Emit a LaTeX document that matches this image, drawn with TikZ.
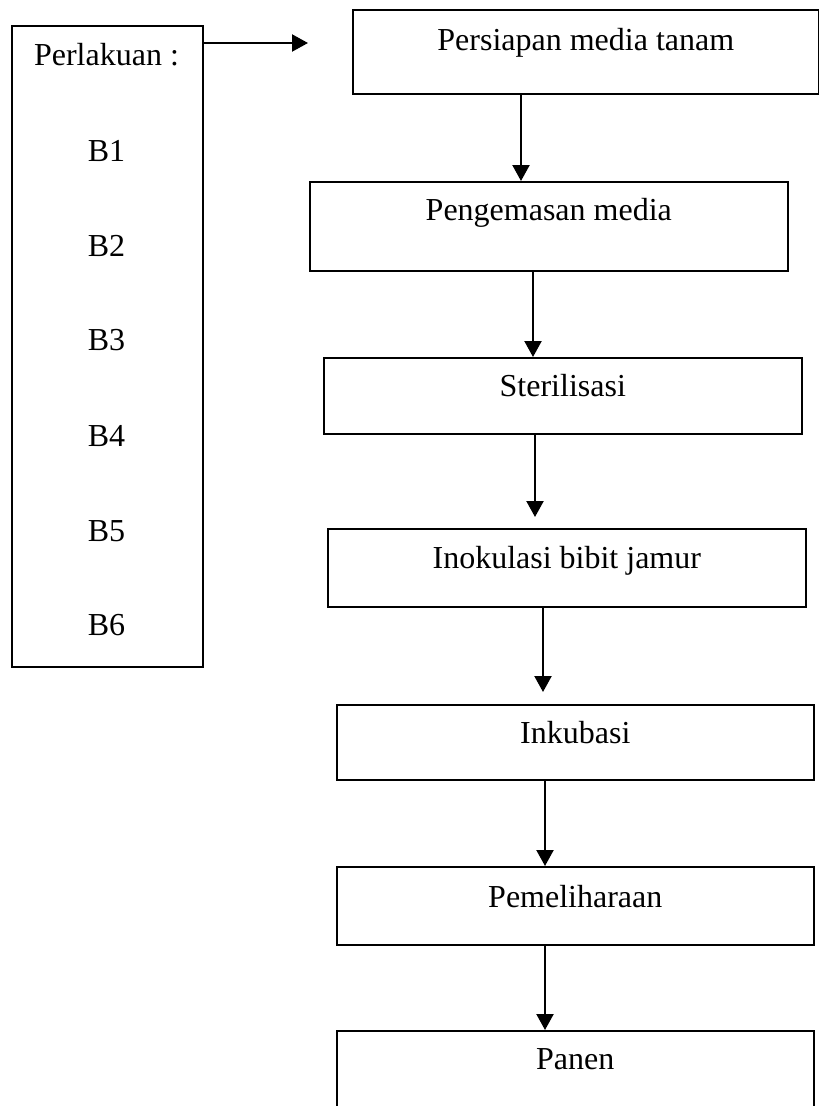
\documentclass[tikz,border=0pt]{standalone}
\usepackage{fontspec}
\setmainfont{Liberation Serif}
\usetikzlibrary{arrows.meta}
\begin{document}
\begin{tikzpicture}[x=1pt,y=-1pt,
  box/.style={draw,line width=1.6pt,inner sep=0pt,anchor=north west,font=\fontsize{32}{38}\selectfont},
  arr/.style={line width=2.2pt,-{Triangle[width=17pt,length=16pt]}},
  lbl/.style={anchor=base,inner sep=0pt,font=\fontsize{32}{38}\selectfont}]
\useasboundingbox (0,0) rectangle (819,1106);
% left box
\node[draw,line width=1.6pt,inner sep=0pt,anchor=north west,minimum width=191pt,minimum height=641pt] (perl) at (11,25) {};
\node[lbl] (p0) at (106.5,65) {Perlakuan :};
\node[lbl] (pb1) at (106.5,161) {B1};
\node[lbl] (pb2) at (106.5,256) {B2};
\node[lbl] (pb3) at (106.5,350) {B3};
\node[lbl] (pb4) at (106.5,446) {B4};
\node[lbl] (pb5) at (106.5,541) {B5};
\node[lbl] (pb6) at (106.5,635) {B6};
% flow boxes
\node[box,minimum width=466pt,text height=41pt,text depth=43pt] (b1) at (352,9) {Persiapan media tanam};
\node[box,minimum width=478pt,text height=39pt,text depth=50pt] (b2) at (309,181) {Pengemasan media};
\node[box,minimum width=478pt,text height=39pt,text depth=37pt] (b3) at (323,357) {Sterilisasi};
\node[box,minimum width=478pt,text height=40pt,text depth=38pt] (b4) at (327,528) {Inokulasi bibit jamur};
\node[box,minimum width=477pt,text height=39pt,text depth=36pt] (b5) at (336,704) {Inkubasi};
\node[box,minimum width=477pt,text height=41pt,text depth=37pt] (b6) at (336,866) {Pemeliharaan};
\node[box,minimum width=477pt,text height=39pt,text depth=80pt] (b7) at (336,1030) {Panen};
% coordinates
\coordinate (a0) at (308,43);
\coordinate (x1) at (521,0);
\coordinate (x2) at (533,0);
\coordinate (x3) at (535,0);
\coordinate (e3) at (535,517);
\coordinate (x4) at (543,0);
\coordinate (e4) at (543,692);
\coordinate (x5) at (545,0);
% arrows
\draw[arr] (perl.east |- a0) -- (a0);
\draw[arr] (b1.south -| x1) -- (b2.north -| x1);
\draw[arr] (b2.south -| x2) -- (b3.north -| x2);
\draw[arr] (b3.south -| x3) -- (e3);
\draw[arr] (b4.south -| x4) -- (e4);
\draw[arr] (b5.south -| x5) -- (b6.north -| x5);
\draw[arr] (b6.south -| x5) -- (b7.north -| x5);
\end{tikzpicture}
\end{document}
